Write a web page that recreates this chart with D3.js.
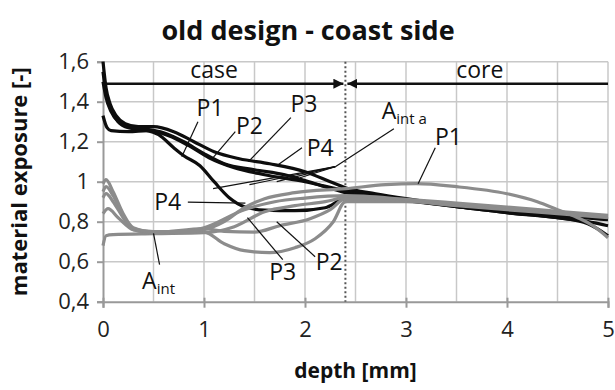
<!DOCTYPE html>
<html lang="en">
<head>
    <meta charset="UTF-8">
    <title>old design - coast side</title>
    <script src="https://d3js.org/d3.v7.min.js"></script>
    <style>
        body { margin: 0; background: #fff; font-family: 'Open Sans', sans-serif; }
        svg { display: block; }
        .grid line { stroke: #c8c8c8; stroke-width: 1.5; }
        .lbl { font-size: 23px; fill: #111; }
    </style>
</head>
<body>
<svg width="615" height="390"></svg>
<script>
    const width = 615;
    const height = 390;

    // black curves (old design)
    const p1Old = [[0,1.55],[0.03,1.44],[0.08,1.36],[0.15,1.3],[0.25,1.27],[0.4,1.26],[0.55,1.235],[0.7,1.17],[0.8,1.13],[0.96,1.08],[1.1,1.0],[1.25,0.92],[1.4,0.875],[1.6,0.858],[1.9,0.855],[2.2,0.87],[2.4,0.915],[2.7,0.912],[3.0,0.905],[3.5,0.875],[4.0,0.845],[4.5,0.82],[4.8,0.79],[5.0,0.73]];
    const p2Old = [[0,1.33],[0.04,1.27],[0.08,1.255],[0.25,1.25],[0.45,1.255],[0.65,1.23],[0.85,1.18],[1.05,1.12],[1.3,1.07],[1.6,1.035],[2.0,1.0],[2.4,0.955],[3.0,0.91],[3.5,0.88],[4.0,0.855],[4.5,0.835],[5.0,0.815]];
    const p3Old = [[0,1.6],[0.03,1.47],[0.07,1.39],[0.13,1.33],[0.22,1.29],[0.35,1.275],[0.5,1.275],[0.7,1.25],[0.9,1.2],[1.1,1.15],[1.35,1.115],[1.65,1.09],[2.0,1.05],[2.25,1.0],[2.4,0.97],[2.7,0.94],[3.0,0.915],[3.5,0.88],[4.0,0.855],[4.5,0.83],[5.0,0.81]];
    const p4Old = [[0,1.5],[0.03,1.42],[0.08,1.35],[0.15,1.3],[0.25,1.275],[0.4,1.265],[0.6,1.245],[0.8,1.2],[1.0,1.14],[1.2,1.09],[1.5,1.06],[1.8,1.035],[2.1,0.99],[2.4,0.945],[3.0,0.905],[3.5,0.875],[4.0,0.845],[4.5,0.82],[4.8,0.8],[5.0,0.78]];

    // gray curves
    const p1Gray = [[0,0.99],[0.03,1.01],[0.1,0.95],[0.2,0.84],[0.3,0.77],[0.5,0.75],[0.8,0.75],[1.0,0.76],[1.2,0.8],[1.4,0.87],[1.6,0.915],[1.9,0.945],[2.4,0.965],[2.8,0.985],[3.1,0.99],[3.5,0.975],[4.0,0.94],[4.3,0.9],[4.5,0.86],[4.7,0.82],[4.85,0.78],[5.0,0.72]];
    const p4Gray = [[0,0.95],[0.03,0.975],[0.1,0.93],[0.2,0.83],[0.3,0.765],[0.5,0.75],[0.8,0.752],[1.0,0.77],[1.4,0.86],[1.7,0.9],[2.0,0.918],[2.4,0.93],[3.0,0.912],[3.5,0.893],[4.0,0.873],[4.5,0.852],[5.0,0.832]];
    const p2Gray = [[0,0.92],[0.03,0.94],[0.1,0.9],[0.2,0.82],[0.3,0.76],[0.5,0.745],[1.0,0.765],[1.2,0.752],[1.5,0.748],[1.75,0.78],[2.05,0.815],[2.25,0.86],[2.4,0.915],[3.0,0.905],[3.5,0.885],[4.0,0.865],[4.5,0.845],[5.0,0.825]];
    const p3Gray = [[0,0.84],[0.05,0.865],[0.15,0.82],[0.3,0.76],[0.5,0.745],[1.0,0.748],[1.2,0.69],[1.4,0.655],[1.65,0.645],[1.9,0.67],[2.1,0.715],[2.28,0.8],[2.4,0.9],[3.0,0.9],[3.5,0.88],[4.0,0.86],[4.5,0.84],[5.0,0.82]];
    const aIntGray = [[0,0.68],[0.03,0.73],[0.1,0.735],[0.5,0.74],[1.0,0.745],[1.3,0.775],[1.6,0.85],[1.9,0.88],[2.2,0.9],[2.4,0.92],[3.0,0.908],[3.5,0.888],[4.0,0.868],[4.5,0.848],[5.0,0.828]];

    const blackSeries = [p1Old, p2Old, p3Old, p4Old];
    const graySeries = [aIntGray, p3Gray, p2Gray, p4Gray, p1Gray];

    const xTicks = [0, 1, 2, 3, 4, 5];
    const yTicks = [0.4, 0.6, 0.8, 1.0, 1.2, 1.4, 1.6];
    const xGrid = [0.5, 1, 1.5, 2, 2.5, 3, 3.5, 4, 4.5, 5];
    const boundary = 2.4;
    const arrowLevel = 1.49;

    // labels: text, label anchor [x,y], leader from, leader to (data units)
    const labels = [
        { t: "P1", at: [1.06, 1.37], from: [0.94, 1.30], to: [0.78, 1.125] },
        { t: "P2", at: [1.45, 1.28], from: [1.31, 1.25], to: [1.09, 1.12] },
        { t: "P3", at: [1.99, 1.39], from: [1.86, 1.32], to: [1.44, 1.1] },
        { t: "P4", at: [2.15, 1.17], from: [1.97, 1.17], to: [1.72, 1.08] },
        { t: "P4", at: [0.64, 0.9], from: [0.84, 0.898], to: [1.41, 0.893] },
        { t: "P3", at: [1.78, 0.55], from: [1.78, 0.61], to: [1.43, 0.82] },
        { t: "P2", at: [2.24, 0.6], from: [2.1, 0.625], to: [1.72, 0.8] },
        { t: "P1", at: [3.42, 1.225], from: [3.29, 1.17], to: [3.12, 0.99] }
    ];
    const fanApex = [2.3, 1.075];
    const fanEnds = [[1.09, 0.965], [1.45, 0.985], [1.72, 1.0], [1.95, 1.02]];

    const margin = { top: 61.7, right: 7, bottom: 88.3, left: 103 };
    const x = d3.scaleLinear().domain([0, 5]).range([margin.left, width - margin.right]);
    const y = d3.scaleLinear().domain([0.4, 1.6]).range([height - margin.bottom, margin.top]);

    const svg = d3.select("svg");
    const fmt = d => d3.format(".1f")(d).replace(".", ",").replace(/,0$/, "");

    // grid
    const grid = svg.append("g").attr("class", "grid");
    grid.selectAll(".h").data(yTicks.slice(1)).enter().append("line")
        .attr("x1", x(0)).attr("x2", x(5)).attr("y1", d => y(d)).attr("y2", d => y(d));
    grid.selectAll(".v").data(xGrid).enter().append("line")
        .attr("y1", y(0.4)).attr("y2", y(1.6)).attr("x1", d => x(d)).attr("x2", d => x(d));

    // axes
    const xAxis = svg.append("g").attr("transform", `translate(0,${y(0.4)})`)
        .call(d3.axisBottom(x).tickValues(xTicks).tickSize(6).tickPadding(14).tickFormat(d3.format("d")));
    const yAxis = svg.append("g").attr("transform", `translate(${x(0)},0)`)
        .call(d3.axisLeft(y).tickValues(yTicks).tickSize(6).tickPadding(8).tickFormat(fmt));
    [xAxis, yAxis].forEach(a => {
        a.select(".domain").attr("stroke", "#999").attr("stroke-width", 2);
        a.selectAll(".tick line").attr("stroke", "#999").attr("stroke-width", 2);
        a.selectAll("text").attr("font-family", "'Open Sans', sans-serif").attr("font-size", 22).attr("fill", "#222");
    });
    xAxis.selectAll(".tick line").attr("y1", -4);

    // boundary
    svg.append("line")
        .attr("x1", x(boundary)).attr("x2", x(boundary)).attr("y1", y(1.6)).attr("y2", y(0.4))
        .attr("stroke", "#555").attr("stroke-width", 2).attr("stroke-dasharray", "2,2.5");

    // case / core arrows
    svg.append("defs").selectAll("marker").data(["arr"]).enter().append("marker")
        .attr("id", d => d).attr("viewBox", "0 0 10 10").attr("refX", 10).attr("refY", 5)
        .attr("markerWidth", 4).attr("markerHeight", 4).attr("orient", "auto")
        .append("path").attr("d", "M0,0L10,5L0,10z").attr("fill", "#111");
    svg.append("line").attr("x1", x(0)).attr("x2", x(boundary) - 2)
        .attr("y1", y(arrowLevel)).attr("y2", y(arrowLevel))
        .attr("stroke", "#111").attr("stroke-width", 2.5).attr("marker-end", "url(#arr)");
    svg.append("line").attr("x1", x(5)).attr("x2", x(boundary) + 2)
        .attr("y1", y(arrowLevel)).attr("y2", y(arrowLevel))
        .attr("stroke", "#111").attr("stroke-width", 2.5).attr("marker-end", "url(#arr)");
    svg.append("text").attr("class", "lbl").attr("x", x(1.1)).attr("y", y(1.5) - 4)
        .attr("text-anchor", "middle").text("case");
    svg.append("text").attr("class", "lbl").attr("x", x(3.73)).attr("y", y(1.5) - 4)
        .attr("text-anchor", "middle").text("core");

    // curves
    const line = d3.line().x(d => x(d[0])).y(d => y(d[1])).curve(d3.curveMonotoneX);
    svg.append("g").selectAll("path").data(blackSeries).enter().append("path")
        .attr("d", line).attr("fill", "none").attr("stroke", "#0d0d0d").attr("stroke-width", 3.2);
    svg.append("g").selectAll("path").data(graySeries).enter().append("path")
        .attr("d", line).attr("fill", "none").attr("stroke", "#8c8c8c").attr("stroke-width", 3.2);

    // leaders
    const lead = svg.append("g").attr("stroke", "#111").attr("stroke-width", 1.2);
    lead.selectAll(".l").data(labels).enter().append("line")
        .attr("x1", d => x(d.from[0])).attr("y1", d => y(d.from[1]))
        .attr("x2", d => x(d.to[0])).attr("y2", d => y(d.to[1]));
    lead.selectAll(".f").data(fanEnds).enter().append("line")
        .attr("x1", x(fanApex[0])).attr("y1", y(fanApex[1]))
        .attr("x2", d => x(d[0])).attr("y2", d => y(d[1]));
    lead.append("line").attr("x1", x(2.88)).attr("y1", y(1.265)).attr("x2", x(fanApex[0])).attr("y2", y(fanApex[1]));
    lead.append("line").attr("x1", x(0.56)).attr("y1", y(0.585)).attr("x2", x(0.5)).attr("y2", y(0.742));

    svg.append("g").selectAll("text").data(labels).enter().append("text")
        .attr("class", "lbl").attr("x", d => x(d.at[0])).attr("y", d => y(d.at[1]) + 8)
        .attr("text-anchor", "middle").text(d => d.t);

    // A_int labels with subscripts
    const aInt = svg.append("text").attr("class", "lbl").attr("x", x(0.55)).attr("y", y(0.505) + 8)
        .attr("text-anchor", "middle");
    aInt.append("tspan").text("A");
    aInt.append("tspan").attr("font-size", 15).attr("dy", 5).text("int");
    const aIntA = svg.append("text").attr("class", "lbl").attr("x", x(2.76)).attr("y", y(1.355) + 8);
    aIntA.append("tspan").text("A");
    aIntA.append("tspan").attr("font-size", 15).attr("dy", 5).text("int a");

    // titles
    svg.append("text").attr("x", 308).attr("y", 40).attr("text-anchor", "middle")
        .attr("font-size", 27).attr("font-weight", "bold").attr("fill", "#111")
        .text("old design - coast side");
    svg.append("text").attr("x", x(2.5)).attr("y", 378).attr("text-anchor", "middle")
        .attr("font-size", 21).attr("font-weight", "bold").attr("fill", "#111")
        .text("depth [mm]");
    svg.append("text").attr("transform", `translate(27,${y(1.0)}) rotate(-90)`).attr("text-anchor", "middle")
        .attr("font-size", 22).attr("font-weight", "bold").attr("fill", "#111")
        .text("material exposure [-]");
</script>
</body>
</html>
